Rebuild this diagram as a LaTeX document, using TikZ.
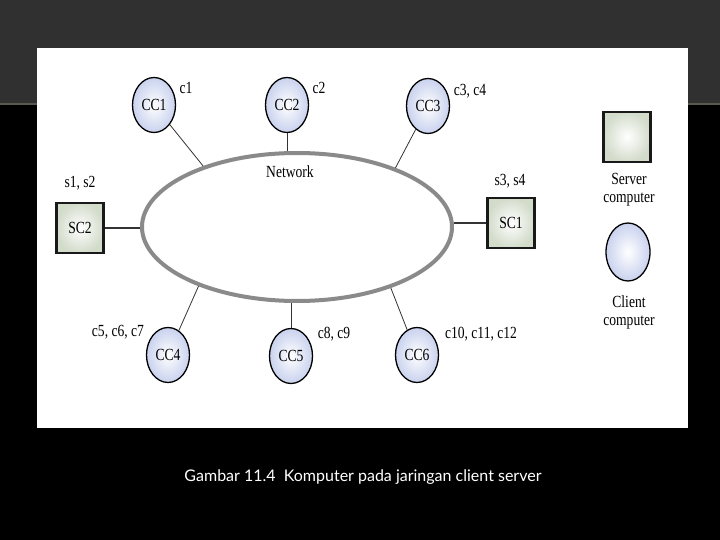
\documentclass[tikz,border=0pt]{standalone}
\usepackage{fontspec}
\setmainfont{Liberation Serif}[FakeStretch=0.8]
\newfontfamily\capfont{Lato}
\usetikzlibrary{shapes.geometric}
\definecolor{bandgray}{HTML}{303030}
\definecolor{bandline}{HTML}{5A5650}
\definecolor{clientfill}{HTML}{C9D2EE}
\definecolor{serverfill}{HTML}{D3DCCB}
\definecolor{netgray}{HTML}{8A8A8A}
\tikzset{
  client/.style={ellipse, draw=black, line width=1.3pt, minimum width=43pt, minimum height=55pt, inner sep=0pt,
    shading=radial, inner color=white, outer color=clientfill, font=\fontsize{17}{18}\selectfont},
  server/.style={rectangle, draw=black!90, line width=2.4pt, minimum width=47pt, minimum height=50pt, inner sep=0pt,
    shading=radial, inner color=white, outer color=serverfill, font=\fontsize{17}{18}\selectfont},
  lbl/.style={inner sep=0pt, font=\fontsize{17}{18}\selectfont},
  link/.style={draw=black!80, line width=0.8pt},
}
\begin{document}
\begin{tikzpicture}[x=1pt,y=-1pt]
\useasboundingbox (0,0) rectangle (720,540);
\fill[black] (0,0) rectangle (720,540);
\fill[bandgray] (0,0) rectangle (720,104);
\draw[bandline, line width=1.5pt] (0,104) -- (720,104);
\fill[white] (37,48) rectangle (688,428);

% network
\node[ellipse, draw=netgray, line width=4pt, minimum width=310pt, minimum height=148pt, inner sep=0pt] (net) at (297,227) {};
\node[lbl] (nettext) at (290,172) {Network};

% clients
\node[client] (cc1) at (154,105) {CC1};
\node[client] (cc2) at (287,105) {CC2};
\node[client] (cc3) at (428,106) {CC3};
\node[client] (cc4) at (168,355) {CC4};
\node[client] (cc5) at (291,356) {CC5};
\node[client] (cc6) at (417,355) {CC6};

% servers
\node[server] (sc2) at (80,228) {SC2};
\node[server] (sc1) at (511,223) {SC1};

% labels
\node[lbl] (l1) at (186,88) {c1};
\node[lbl] (l2) at (319,88) {c2};
\node[lbl] (l3) at (470,91) {c3, c4};
\node[lbl] (l4) at (80,183) {s1, s2};
\node[lbl] (l5) at (510,181) {s3, s4};
\node[lbl] (l6) at (118,332) {c5, c6, c7};
\node[lbl] (l7) at (334,334) {c8, c9};
\node[lbl] (l8) at (481,334) {c10, c11, c12};

% connectors
\draw[link] (cc1) -- (net.147.5);
\draw[link] (cc2) -- (cc2 |- net.north);
\draw[link] (cc3) -- (net.31);
\draw[link] (cc4) -- (net.211);
\draw[link] (cc5) -- (cc5 |- net.south);
\draw[link] (cc6) -- (net.-33);
\draw[link, line width=1.2pt] (sc2) -- (sc2 -| net.west);
\draw[link, line width=1.2pt] (sc1) -- (sc1 -| net.east);

% legend
\node[server] (lgs) at (627,137) {};
\node[lbl, align=center] (lgst) at (629,190) {Server\\computer};
\node[client, minimum width=44pt, minimum height=58pt] (lgc) at (628,252) {};
\node[lbl, align=center] (lgct) at (629,312) {Client\\computer};

% caption
\node[text=white, inner sep=0pt, font=\capfont\fontsize{16}{18}\selectfont] (cap) at (363,477) {Gambar 11.4\ \ Komputer pada jaringan client server};
\end{tikzpicture}
\end{document}
